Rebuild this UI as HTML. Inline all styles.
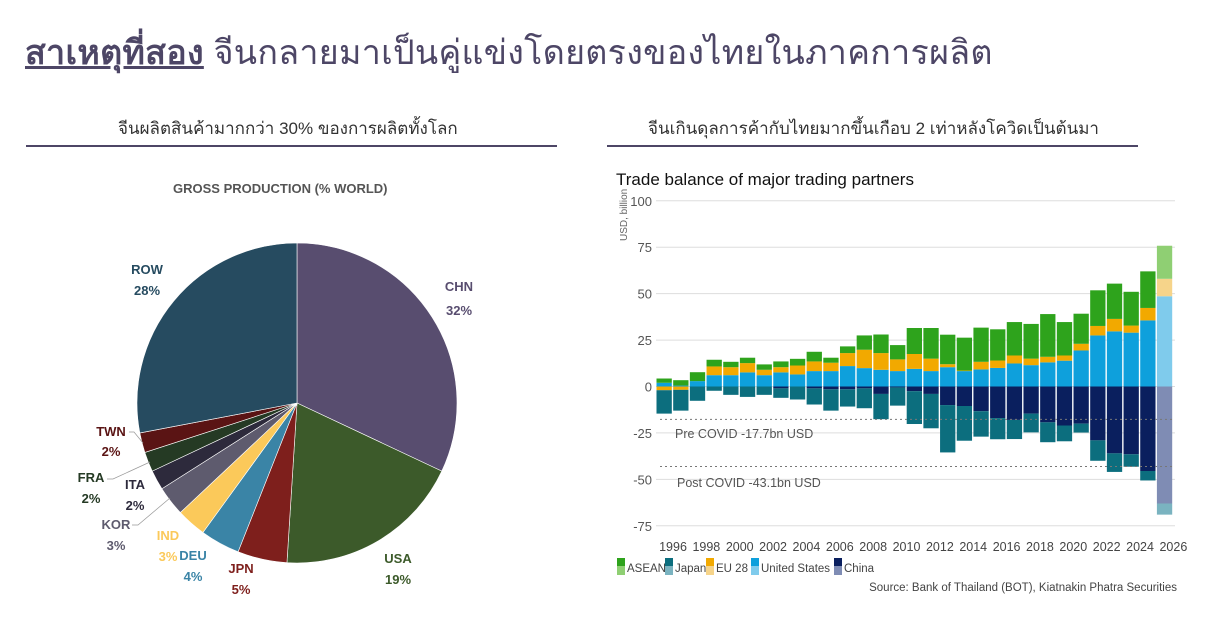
<!DOCTYPE html>
<html><head><meta charset="utf-8">
<style>
body{margin:0;width:1210px;height:633px;background:#fff;font-family:"Liberation Sans","DejaVu Sans",sans-serif;overflow:hidden;position:relative}
.t{position:absolute;white-space:nowrap}
</style></head><body>
<div class="t" style="left:25px;top:25px;font-size:34px;letter-spacing:0.3px;color:#4d4666;"><span style="font-weight:bold;text-decoration:underline;">สาเหตุที่สอง</span> จีนกลายมาเป็นคู่แข่งโดยตรงของไทยในภาคการผลิต</div>
<div class="t" style="left:118px;top:115px;font-size:17px;color:#333;">จีนผลิตสินค้ามากกว่า 30% ของการผลิตทั้งโลก</div>
<div class="t" style="left:648px;top:115px;font-size:17px;color:#333;">จีนเกินดุลการค้ากับไทยมากขึ้นเกือบ 2 เท่าหลังโควิดเป็นต้นมา</div>
<div style="position:absolute;left:26px;top:145px;width:531px;height:2px;background:#4d4666"></div>
<div style="position:absolute;left:607px;top:145px;width:531px;height:2px;background:#4d4666"></div>
<div class="t" style="left:173px;top:181px;font-size:13px;font-weight:bold;color:#555;">GROSS PRODUCTION (% WORLD)</div>
<div class="t" style="left:616px;top:170px;font-size:17px;color:#111;">Trade balance of major trading partners</div>
<svg id="s" width="1210" height="633" style="position:absolute;left:0;top:0" xmlns="http://www.w3.org/2000/svg"></svg>
<script>
var s=document.getElementById('s'),h='';
var cx=297,cy=403,r=160;
var sl=[[32,'#584d6f'],[19,'#3c5a2a'],[5,'#7e1f1c'],[4,'#3a84a6'],[3,'#fbc95a'],[3,'#5e5b6e'],[2,'#2d2a3c'],[2,'#253a24'],[2,'#5a1414'],[28,'#264b60']];
var a=0;
sl.forEach(function(q){var a2=a+q[0]*3.6;var p1=[cx+r*Math.sin(a*Math.PI/180),cy-r*Math.cos(a*Math.PI/180)],p2=[cx+r*Math.sin(a2*Math.PI/180),cy-r*Math.cos(a2*Math.PI/180)];
h+='<path d="M'+cx+','+cy+'L'+p1[0]+','+p1[1]+'A'+r+','+r+' 0 '+(a2-a>180?1:0)+' 1 '+p2[0]+','+p2[1]+'Z" fill="'+q[1]+'" stroke="#fff" stroke-width="0.6"/>';a=a2;});
function L(x,y,t,c){h+='<text x="'+x+'" y="'+y+'" font-size="13" font-weight="bold" fill="'+c+'" text-anchor="middle">'+t+'</text>';}
L(147,274,'ROW','#264b60');L(147,295,'28%','#264b60');
L(459,291,'CHN','#584d6f');L(459,315,'32%','#584d6f');
L(398,563,'USA','#3c5a2a');L(398,584,'19%','#3c5a2a');
L(241,573,'JPN','#7e1f1c');L(241,594,'5%','#7e1f1c');
L(193,560,'DEU','#3a84a6');L(193,581,'4%','#3a84a6');
L(168,540,'IND','#fbc95a');L(168,561,'3%','#fbc95a');
L(116,529,'KOR','#5e5b6e');L(116,550,'3%','#5e5b6e');
L(135,489,'ITA','#2d2a3c');L(135,510,'2%','#2d2a3c');
L(91,482,'FRA','#253a24');L(91,503,'2%','#253a24');
L(111,436,'TWN','#5a1414');L(111,456,'2%','#5a1414');
h+='<polyline points="129,432 134,432 143,443" fill="none" stroke="#999" stroke-width="0.7"/>';
h+='<polyline points="107,479 113,479 150,462" fill="none" stroke="#999" stroke-width="0.7"/>';
h+='<polyline points="132,525 138,525 170,498" fill="none" stroke="#999" stroke-width="0.7"/>';
var y0=386.5,k=1.857;function Y(v){return y0-v*k;}
[100,75,50,25,0,-25,-50,-75].forEach(function(v){h+='<line x1="656" x2="1175" y1="'+Y(v)+'" y2="'+Y(v)+'" stroke="#ddd" stroke-width="1"/>';h+='<text x="652" y="'+(Y(v)+5)+'" font-size="13" fill="#555" text-anchor="end">'+v+'</text>';});
h+='<text transform="translate(627,241) rotate(-90)" font-size="10" fill="#666">USD, billion</text>';
var d=[[2,-2,4.3,0,-14.6],[0.5,-1.8,3.4,0,-13],[2.9,2.9,7.7,0,-7.7],[6.1,10.8,14.4,0,-2.3],[6.1,10.4,13.3,0,-4.5],[7.6,12.6,15.5,0,-5.6],[6.1,9,11.9,0,-4.5],[7.6,10.4,13.5,-1,-6.1],[6.5,11.3,14.9,0,-7],[8.3,13.5,18.7,-1,-9.7],[8.3,12.8,15.5,-1.5,-13],[11,18,21.6,-1.5,-10.8],[9.9,19.8,27.5,-1,-11.7],[9,18,28,-4,-17.6],[8.3,14.6,22.3,-0.5,-10.3],[9.5,17.5,31.5,-2.5,-20.2],[8.3,15,31.5,-4,-22.5],[10.4,12,27.9,-10,-35.5],[8.3,8.6,26.3,-10.5,-29.2],[9.2,13.3,31.7,-13.3,-27],[10,14,30.8,-17,-28.4],[12.4,16.7,34.7,-18,-28.3],[11.5,15,33.7,-14.6,-24.7],[13,16,39,-19.3,-30],[13.9,16.7,34.7,-21,-29.5],[19.4,23,39.2,-20,-24.8],[27.5,32.6,51.8,-29,-40],[29.7,36.4,55.4,-36,-46],[29,32.8,51,-36.5,-43.2],[35.6,42.3,62,-45.5,-50.6],[48.6,58,75.8,-63,-69]];
var C=['#0ea0dc','#f2a900','#2ea31c','#0a1f5e','#0c6e7e'],CL=['#7fcbec','#f6d48a','#8fcf73','#7f8cb4','#7ab3c0'];
function R(x,a,b,c){var t=Math.min(Y(a),Y(b)),hh=Math.abs(Y(a)-Y(b));if(hh>0)h+='<rect x="'+x+'" y="'+t+'" width="15.3" height="'+hh+'" fill="'+c+'"/>';}
d.forEach(function(q,i){var x=656.5+i*16.68,c=i==30?CL:C;
if(q[1]<0){R(x,0,q[0],c[0]);R(x,0,q[1],c[1]);R(x,q[0],q[2],c[2]);R(x,q[1],q[4],c[4]);}
else{R(x,0,q[0],c[0]);R(x,q[0],q[1],c[1]);R(x,q[1],q[2],c[2]);R(x,0,q[3],c[3]);R(x,q[3],q[4],c[4]);}});
[-17.7,-43.1].forEach(function(v){h+='<line x1="660" x2="1175" y1="'+Y(v)+'" y2="'+Y(v)+'" stroke="#777" stroke-width="1" stroke-dasharray="2,3"/>';});
h+='<text x="675" y="438" font-size="12.5" fill="#555">Pre COVID -17.7bn USD</text>';
h+='<text x="677" y="487" font-size="12.5" fill="#555">Post COVID -43.1bn USD</text>';
for(var yr=1996;yr<=2026;yr+=2){h+='<text x="'+(673+(yr-1996)*16.68)+'" y="551" font-size="12.5" fill="#444" text-anchor="middle">'+yr+'</text>';}
var lg=[['ASEAN',617,2],['Japan',665,4],['EU 28',706,1],['United States',751,0],['China',834,3]];
lg.forEach(function(g){h+='<rect x="'+g[1]+'" y="558" width="8" height="8" fill="'+C[g[2]]+'"/><rect x="'+g[1]+'" y="566" width="8" height="9" fill="'+CL[g[2]]+'"/><text x="'+(g[1]+10)+'" y="572" font-size="11.5" fill="#444">'+g[0]+'</text>';});
h+='<text x="1177" y="591" font-size="11.5" fill="#444" text-anchor="end">Source: Bank of Thailand (BOT), Kiatnakin Phatra Securities</text>';
s.innerHTML=h;
</script>
</body></html>
